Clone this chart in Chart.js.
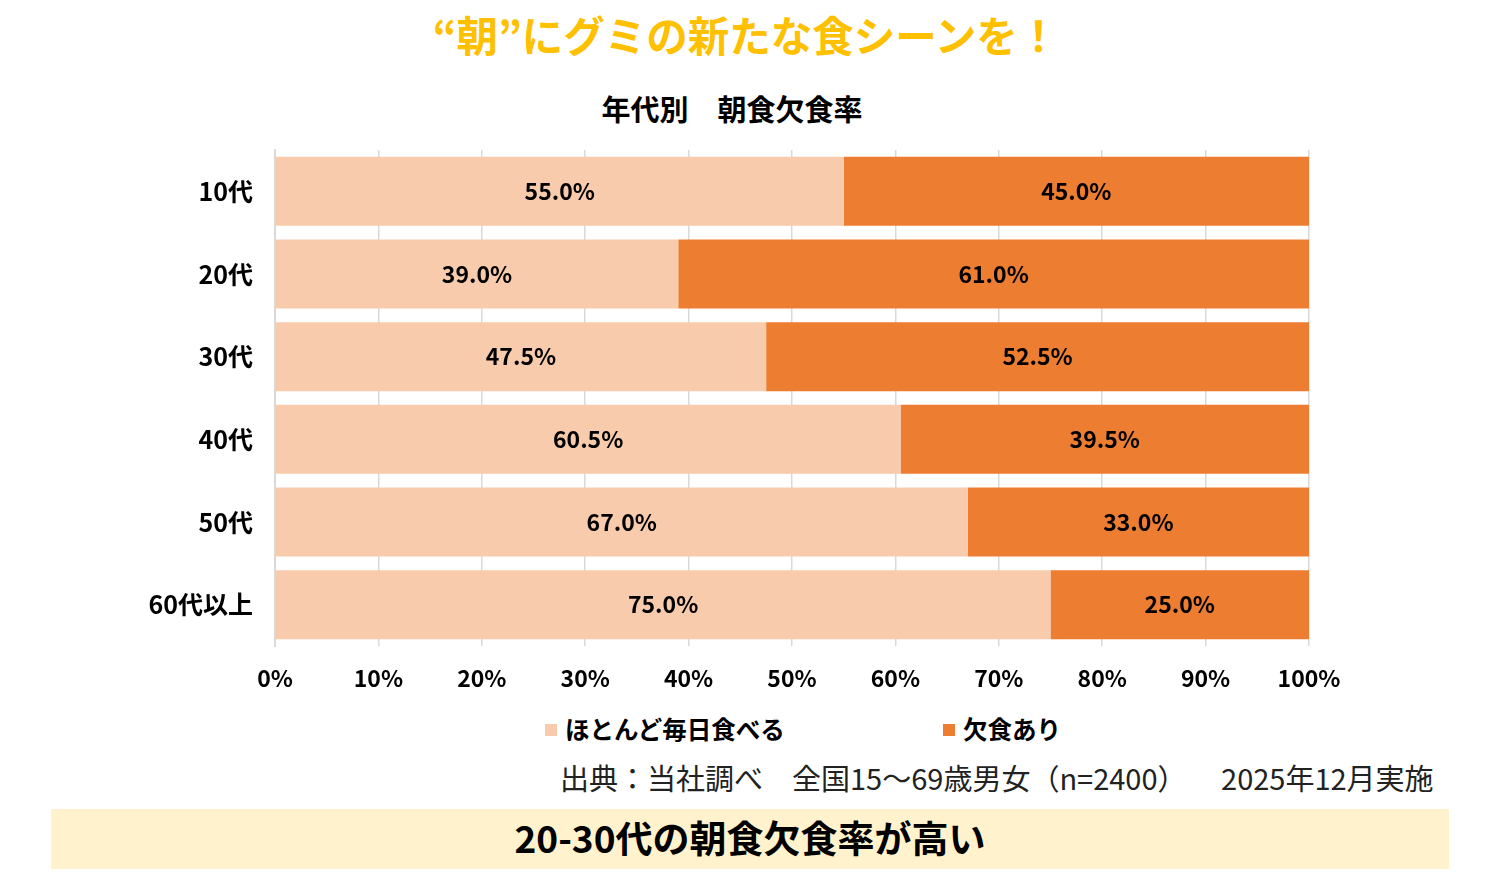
<!DOCTYPE html>
<html>
<head>
<meta charset="utf-8">
<script src="https://cdn.jsdelivr.net/npm/chart.js@4/dist/chart.umd.min.js"></script>
<style>
  html, body { margin:0; padding:0; background:#fff; }
  body { width:1500px; height:885px; position:relative; overflow:hidden;
         font-family:"Noto Sans CJK JP","Noto Sans",sans-serif; color:#000; }
  .abs { position:absolute; white-space:nowrap; }
  #title { left:0; width:1492px; top:7px; text-align:center; font-size:41.5px; font-weight:bold; color:#FFC000; line-height:54px; }
  #subtitle { left:0; width:1464px; top:89px; text-align:center; font-size:29px; font-weight:bold; line-height:38px; }
  #chartBox { position:absolute; left:0; top:140px; width:1370px; height:560px; }
  #legend { top:713px; left:0; height:32px; }
  .lg { position:absolute; top:0; font-size:24.5px; font-weight:bold; line-height:32px; }
  .lg span.sw { display:inline-block; width:12px; height:12px; margin-right:8px; vertical-align:middle; position:relative; top:-2px; }
  #source { left:560px; top:757px; font-size:29px; line-height:40px; color:#222; }
  #source .gap { display:inline-block; width:20px; }
  #banner { left:51px; top:809px; width:1398px; height:60px; background:#FFF2CC; text-align:center; font-size:37px; font-weight:bold; line-height:56px; }
</style>
</head>
<body>
<div id="title" class="abs">“朝”にグミの新たな食シーンを！</div>
<div id="subtitle" class="abs">年代別　朝食欠食率</div>
<div id="chartBox"><canvas id="c"></canvas></div>
<div id="legend" class="abs"></div>
<div id="source" class="abs">出典：当社調べ　全国15～69歳男女（n=2400）　<span class="gap"></span>2025年12月実施</div>
<div id="banner" class="abs">20-30代の朝食欠食率が高い</div>
<script>
const categories = ["10代", "20代", "30代", "40代", "50代", "60代以上"];
const seriesNames = ["ほとんど毎日食べる", "欠食あり"];
const eatDaily = [55.0, 39.0, 47.5, 60.5, 67.0, 75.0];
const skipBreakfast = [45.0, 61.0, 52.5, 39.5, 33.0, 25.0];
const xTicks = [0, 10, 20, 30, 40, 50, 60, 70, 80, 90, 100];
const colors = ["#F8CBAD", "#ED7D31"];
const legendX = [545, 943];

const FONT = '"Noto Sans CJK JP","Noto Sans",sans-serif';

const barLabels = {
  id: 'barLabels',
  afterDatasetsDraw(chart) {
    const ctx = chart.ctx;
    ctx.save();
    ctx.font = 'bold 23px ' + FONT;
    ctx.fillStyle = '#000';
    ctx.textAlign = 'center';
    ctx.textBaseline = 'middle';
    chart.data.datasets.forEach((ds, i) => {
      const meta = chart.getDatasetMeta(i);
      meta.data.forEach((bar, j) => {
        const p = bar.getProps(['x', 'y', 'base'], true);
        const cx = (p.x + p.base) / 2;
        ctx.fillText(ds.data[j].toFixed(1) + '%', cx, p.y);
      });
    });
    ctx.restore();
  }
};

new Chart(document.getElementById('c'), {
  type: 'bar',
  data: {
    labels: categories,
    datasets: [
      { label: seriesNames[0], data: eatDaily, backgroundColor: colors[0], barPercentage: 0.835, categoryPercentage: 1.0 },
      { label: seriesNames[1], data: skipBreakfast, backgroundColor: colors[1], barPercentage: 0.835, categoryPercentage: 1.0 }
    ]
  },
  options: {
    indexAxis: 'y',
    responsive: true,
    maintainAspectRatio: false,
    animation: false,
    layout: { padding: { top: 10, right: 61, left: 0, bottom: 0 } },
    plugins: { legend: { display: false }, tooltip: { enabled: false } },
    scales: {
      x: {
        stacked: true,
        min: 0, max: 100,
        afterBuildTicks(scale) { scale.ticks = xTicks.map(v => ({ value: v })); },
        afterFit(scale) { scale.height = 54; scale.paddingLeft = 0; scale.paddingRight = 0; },
        ticks: { padding: 18, color: '#000', font: { family: FONT, size: 23, weight: 'bold' }, callback: v => v + '%' },
        grid: { color: '#D9D9D9', lineWidth: 1.5, drawTicks: false },
        border: { display: false }
      },
      y: {
        stacked: true,
        afterFit(scale) { scale.width = 275; scale.paddingTop = 0; scale.paddingBottom = 0; },
        ticks: { padding: 22, color: '#000', font: { family: FONT, size: 25, weight: 'bold' } },
        grid: { display: false, drawTicks: false },
        border: { display: true, color: '#D9D9D9', width: 2 }
      }
    }
  },
  plugins: [barLabels]
});

const lg = document.getElementById('legend');
seriesNames.forEach((n, i) => {
  const d = document.createElement('div');
  d.className = 'lg';
  d.style.left = legendX[i] + 'px';
  d.innerHTML = '<span class="sw" style="background:' + colors[i] + '"></span>' + n;
  lg.appendChild(d);
});
</script>
</body>
</html>
